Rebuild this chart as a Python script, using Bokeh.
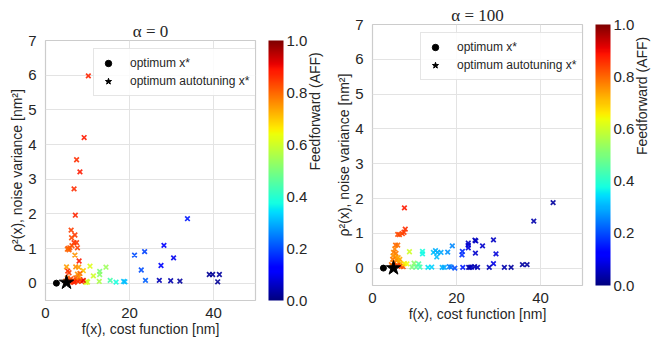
import math
import numpy as np
from bokeh.plotting import figure
from bokeh.models import (ColumnDataSource, LinearColorMapper, ColorBar, FixedTicker,
                          PrintfTickFormatter, Legend, LegendItem, LinearAxis, Range1d)
from bokeh.layouts import row, column
from bokeh.embed import file_html
from bokeh.resources import INLINE

# ---------------- data ----------------
titles = ["α = 0", "α = 100"]

f_a0 = [10.2, 9.2, 7.4, 8.2, 6.8, 7.1, 6.1, 7.0, 6.2, 6.8, 7.4, 6.3, 5.4, 5.6, 5.8, 5.2, 7.6,
        7.0, 8.0, 5.0, 7.2, 7.9, 10.6, 9.0, 5.3, 5.6, 7.6, 8.2, 11.4, 12.9, 12.9, 14.4, 12.8,
        15.4, 16.8, 18.6, 18.9, 9.6, 10.0, 9.8,
        5.2, 5.5, 5.9, 6.3, 6.6, 7.0, 7.4, 7.8, 8.2, 8.6, 9.0, 6.0, 7.2, 8.0, 5.7, 6.8, 4.8,
        21.2, 23.6, 22.8, 23.8, 28.2, 27.5, 30.5, 33.8, 27.1, 29.8, 32.0, 39.0, 39.8, 41.4, 41.0]
rho_a0 = [5.98, 4.2, 3.56, 3.21, 2.72, 1.96, 1.53, 1.39, 1.31, 1.17, 1.17, 1.08, 1.0, 0.96, 1.02, 0.98, 1.02,
          0.81, 0.64, 0.47, 0.47, 0.46, 0.49, 0.36, 0.35, 0.30, 0.26, 0.28, 0.21, 0.34, 0.25, 0.46, 0.05,
          0.08, 0.03, 0.05, 0.04, 0.02, 0.03, 0.05,
          0.15, 0.08, 0.06, 0.05, 0.07, 0.05, 0.08, 0.06, 0.10, 0.05, 0.08, 0.12, 0.15, 0.18, 0.03, 0.02, 0.06,
          0.81, 0.91, 0.38, 0.08, 1.09, 0.51, 0.73, 1.86, 0.08, 0.07, 0.06, 0.25, 0.25, 0.25, 0.04]
aff_a0 = [0.87, 0.88, 0.86, 0.88, 0.86, 0.87, 0.84, 0.85, 0.83, 0.86, 0.85, 0.83, 0.82, 0.81, 0.82, 0.80, 0.84,
          0.75, 0.88, 0.74, 0.76, 0.74, 0.62, 0.70, 0.87, 0.84, 0.76, 0.80, 0.60, 0.50, 0.52, 0.54, 0.56,
          0.44, 0.38, 0.32, 0.31, 0.62, 0.61, 0.60,
          0.78, 0.86, 0.85, 0.87, 0.86, 0.86, 0.88, 0.85, 0.87, 0.84, 0.90, 0.83, 0.82, 0.76, 0.84, 0.87, 0.80,
          0.20, 0.19, 0.20, 0.22, 0.12, 0.13, 0.10, 0.15, 0.05, 0.04, 0.03, 0.02, 0.02, 0.03, 0.02]

f_a100 = [7.6, 7.8, 7.5, 7.1, 6.0, 6.4, 5.5, 6.0, 5.3, 5.0, 5.6, 4.9, 5.5, 6.1, 4.8, 5.8, 6.3, 5.1,
          6.7, 4.7, 5.9, 6.8, 7.3, 4.5, 6.5,
          7.6, 8.2, 8.8, 9.4, 9.9, 10.4, 11.0, 11.3,
          11.9, 11.9, 13.2, 14.1, 14.5, 15.0, 15.3, 15.5, 16.3, 16.6, 17.1, 17.9, 18.3, 18.7, 19.0,
          19.6, 21.4, 21.3, 21.5,
          22.8, 22.8, 22.8, 24.4, 24.6, 26.2, 28.8, 24.5, 29.4, 28.8, 23.2, 23.6, 24.3, 25.0, 22.9,
          27.8, 31.4, 33.0, 35.7, 36.8, 38.4, 43.0]
rho_a100 = [1.73, 1.12, 1.03, 0.99, 0.97, 0.96, 0.66, 0.66, 0.55, 0.45, 0.42, 0.35, 0.32, 0.30, 0.25, 0.22,
            0.18, 0.15, 0.12, 0.06, 0.08, 0.05, 0.04, 0.10, 0.25,
            0.13, 0.12, 0.47, 0.03, 0.14, 0.03, 0.12, 0.03,
            0.48, 0.41, 0.02, 0.03, 0.45, 0.50, 0.32, 0.45, 0.45, 0.02, 0.02, 0.46, 0.04, 0.03, 0.64,
            0.00, 0.48, 0.38, 0.02,
            0.72, 0.66, 0.58, 0.80, 0.78, 0.64, 0.81, 0.43, 0.41, 0.13, 0.02, 0.03, 0.04, 0.02, 0.02,
            0.02, 0.02, 0.02, 0.10, 0.10, 1.35, 1.88]
aff_a100 = [0.88, 0.86, 0.85, 0.84, 0.83, 0.83, 0.80, 0.79, 0.77, 0.77, 0.78, 0.76, 0.75, 0.74, 0.78, 0.76,
            0.74, 0.78, 0.72, 0.82, 0.85, 0.84, 0.82, 0.79, 0.73,
            0.67, 0.64, 0.60, 0.50, 0.52, 0.47, 0.45, 0.43,
            0.38, 0.37, 0.35, 0.33, 0.32, 0.30, 0.31, 0.30, 0.29, 0.30, 0.29, 0.27, 0.25, 0.24, 0.26,
            0.20, 0.17, 0.17, 0.15,
            0.06, 0.07, 0.08, 0.05, 0.06, 0.07, 0.06, 0.07, 0.08, 0.09, 0.05, 0.06, 0.04, 0.05, 0.04,
            0.05, 0.04, 0.03, 0.03, 0.03, 0.04, 0.03]

opt_f = [2.6, 2.6]
opt_rho = [0.0, 0.0]
auto_f = [5.0, 5.0]
auto_rho = [0.02, 0.0]

cbar_ticks = [0.0, 0.2, 0.4, 0.6, 0.8, 1.0]
x_ticks = [0, 20, 40]
y_ticks = [0, 1, 2, 3, 4, 5, 6, 7]

# ---------------- jet palette ----------------
def jet_palette(n=256):
    t = np.linspace(0, 1, n)
    r = np.interp(t, [0, 0.35, 0.66, 0.89, 1], [0, 0, 1, 1, 0.5])
    g = np.interp(t, [0, 0.125, 0.375, 0.64, 0.91, 1], [0, 0, 1, 1, 0, 0])
    b = np.interp(t, [0, 0.11, 0.34, 0.65, 1], [0.5, 1, 1, 0, 0])
    return ["#%02x%02x%02x" % (int(round(a * 255)), int(round(c * 255)), int(round(d * 255)))
            for a, c, d in zip(r, g, b)]

JET = jet_palette()
FONT = "Liberation Sans"
TXT = "#262626"


def make_panel(title, f, rho, aff, opt_x, opt_y, aut_x, aut_y, b_left, b_top, frame_h, b_bottom, b_right):
    p = figure(frame_width=210, frame_height=frame_h, x_range=(0, 50), y_range=(-0.5, 7),
               min_border_left=b_left, min_border_top=b_top, min_border_bottom=b_bottom,
               min_border_right=b_right, output_backend="svg", toolbar_location=None,
               title=title)
    p.title.align = "center"
    p.title.text_font = "Liberation Serif"
    p.title.text_font_size = "17px"
    p.title.text_font_style = "normal"
    p.title.text_color = TXT
    p.title.standoff = 0
    p.title.offset = 0

    mapper = LinearColorMapper(palette=JET, low=0, high=1)
    src = ColumnDataSource(dict(f=f, rho=rho, aff=aff))
    p.scatter("f", "rho", source=src, marker="x", size=6.5, line_width=1.7,
              color={"field": "aff", "transform": mapper}, alpha=0.9)
    dot = p.scatter(opt_x[:1], opt_y[:1], marker="circle", size=6, color="black")
    star = p.scatter(aut_x[:1], aut_y[:1], marker="star", size=15, color="black")

    for ax in (p.xaxis[0], p.yaxis[0]):
        ax.axis_line_color = None
        ax.major_tick_line_color = None
        ax.minor_tick_line_color = None
        ax.major_label_text_font = FONT
        ax.major_label_text_font_size = "15px"
        ax.major_label_text_color = TXT
        ax.axis_label_text_font = FONT
        ax.axis_label_text_font_size = "14px"
        ax.axis_label_text_font_style = "normal"
        ax.axis_label_text_color = TXT
        ax.axis_label_standoff = 0
    p.xaxis.major_label_standoff = 1
    p.yaxis.major_label_standoff = 3
    p.xaxis.ticker = FixedTicker(ticks=x_ticks)
    p.yaxis.ticker = FixedTicker(ticks=y_ticks)
    p.xaxis.axis_label = "f(x), cost function [nm]"
    p.yaxis.axis_label = "ρ²(x), noise variance [nm²]"

    p.grid.grid_line_color = "#e3e3e3"
    p.grid.grid_line_width = 1
    p.outline_line_color = "#cccccc"
    p.outline_line_width = 1.2
    p.background_fill_color = "white"
    p.border_fill_color = "white"

    legend = Legend(items=[LegendItem(label="optimum x*", renderers=[dot]),
                           LegendItem(label="optimum autotuning x*", renderers=[star])],
                    location=(48, frame_h - 56))
    legend.label_text_font = FONT
    legend.label_text_font_size = "12px"
    legend.label_text_color = TXT
    legend.glyph_width = 16
    legend.glyph_height = 16
    legend.spacing = 2
    legend.padding = 6
    legend.margin = 0
    legend.label_standoff = 14
    legend.border_line_color = "#cccccc"
    legend.background_fill_alpha = 0.85
    p.add_layout(legend)

    cb = ColorBar(color_mapper=mapper, width=15, padding=0, margin=0,
                  ticker=FixedTicker(ticks=cbar_ticks),
                  formatter=PrintfTickFormatter(format="%.1f"),
                  major_tick_line_color=None, minor_tick_line_color=None,
                  bar_line_color=None, border_line_color=None,
                  background_fill_alpha=0,
                  major_label_text_font=FONT, major_label_text_font_size="15px",
                  major_label_text_color=TXT, label_standoff=3,
                  location=(13, 0))
    p.add_layout(cb, "right")

    # colour-bar caption as an extra right axis without ticks
    p.extra_y_ranges = {"cb": Range1d(0, 1)}
    cap = LinearAxis(y_range_name="cb", ticker=FixedTicker(ticks=[]),
                     axis_label="Feedforward (AFF)")
    cap.axis_line_color = None
    cap.major_tick_line_color = None
    cap.minor_tick_line_color = None
    cap.major_label_text_font_size = "0px"
    cap.major_label_standoff = 0
    cap.axis_label_standoff = 4
    cap.axis_label_text_font = FONT
    cap.axis_label_text_font_size = "14px"
    cap.axis_label_text_font_style = "normal"
    cap.axis_label_text_color = TXT
    if "axis_label_orientation" in cap.properties():
        cap.axis_label_orientation = math.pi / 2
    p.add_layout(cap, "right")
    return p


p1 = make_panel(titles[0], f_a0, rho_a0, aff_a0, opt_f, opt_rho, auto_f, auto_rho,
                45, 40, 260, 39, 75)
p2 = make_panel(titles[1], f_a100, rho_a100, aff_a100, opt_f[1:], opt_rho[1:], auto_f[1:], auto_rho[1:],
                38, 24, 261, 54, 73)

layout = row(column(p1), column(p2))
open("out.html", "w").write(file_html(layout, INLINE))
